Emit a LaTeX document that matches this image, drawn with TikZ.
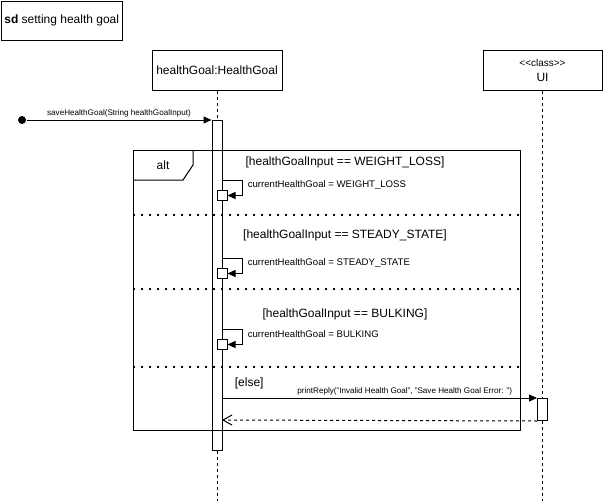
\documentclass[tikz,border=0pt]{standalone}
\usepackage{fontspec}
\setmainfont{Liberation Sans}
\usepackage{tikz}
\usetikzlibrary{positioning,
                arrows.meta,
                calc}

\begin{document}
\begin{tikzpicture}[x=1pt,y=-1pt,line width=1pt,
  box/.style={draw,minimum width=130,minimum height=40,inner sep=2pt,font=\fontsize{12}{14}\selectfont},
  act/.style={draw,fill=white,minimum width=10,inner sep=0},
  lifeline/.style={dash pattern=on 3pt off 3pt},
  msg/.style={-{Triangle[length=8pt,width=7pt]}},
  reply/.style={dash pattern=on 3pt off 3pt,-{Straight Barb[length=9pt,width=10pt]}},
  separator/.style={line width=1.5pt,dash pattern=on 1.5pt off 6.5pt},
  guard/.style={font=\fontsize{12}{14}\selectfont},
  selftext/.style={font=\fontsize{9.6}{11}\selectfont,anchor=west},
  msglabel/.style={font=\fontsize{8.1}{9}\selectfont,inner sep=2pt}]
\useasboundingbox (0,0) rectangle (603,501);
\def\lt{\textless\kern0pt\textless} \def\gt{\textgreater\kern0pt\textgreater}
% frame title and lifeline heads
\node [draw,minimum width=121,minimum height=39,anchor=north west,font=\fontsize{12}{14}\selectfont] (title) at (0.5,0.5) {\textbf{sd} setting health goal};
\node [box] (hg) at (217,70) {healthGoal:HealthGoal};
\node [box,minimum width=119,align=center] (ui) at (542.5,70) {{\fontsize{10}{12}\selectfont\lt class\gt}\\[1pt]UI};
\coordinate (hgend) at (217,501);
\coordinate (uiend) at (542.5,501);
\draw [lifeline] (hg) -- (hgend);
\draw [lifeline] (ui) -- (uiend);
% activations
\node [act,minimum height=330,anchor=north] (hgact) at (217,120) {};
\node [act,minimum height=22,anchor=north] (uiact) at (542.5,398) {};
% found message
\node [circle,fill,inner sep=0,minimum size=8] (start) at (22,120) {};
\draw [msg] (start) -- (hgact.north west) node [msglabel,midway,above] {saveHealthGoal(String healthGoalInput)};
% alt fragment
\draw (133,150) rectangle (520,430);
\draw (133,180) -- (183,180) -- (193,165) -- (193,150);
\node [guard] (alt) at (163,165) {alt};
\foreach \y in {215,289,367}
\draw [separator] (133,\y) -- (520,\y);
\node [guard] (g1) at (345,162) {[healthGoalInput == WEIGHT\_LOSS]};
\node [guard] (g2) at (345,235) {[healthGoalInput == STEADY\_STATE]};
\node [guard] (g3) at (345,314) {[healthGoalInput == BULKING]};
\node [guard,anchor=west] (g4) at (231,383) {[else]};
% self messages
\foreach \n/\ytop/\goal in {1/180/WEIGHT\_LOSS,2/258/STEADY\_STATE,3/329/BULKING} {
  \node [act,minimum height=10,anchor=north] (self\n) at (222,\ytop+10) {};
  \draw [msg] (222,\ytop) -- ++(20,0) |- (self\n.east);
  \node [selftext] (txt\n) at (244,\ytop+5) {currentHealthGoal = \goal};
}
% call to UI and reply
\draw [msg] (222,398) -- (uiact.north west) node [msglabel,pos=0.58,above] {printReply("Invalid Health Goal", "Save Health Goal Error: ")};
\coordinate (ret) at (222,420);
\draw [reply] (uiact.south west) -- (ret);
\end{tikzpicture}
\end{document}
